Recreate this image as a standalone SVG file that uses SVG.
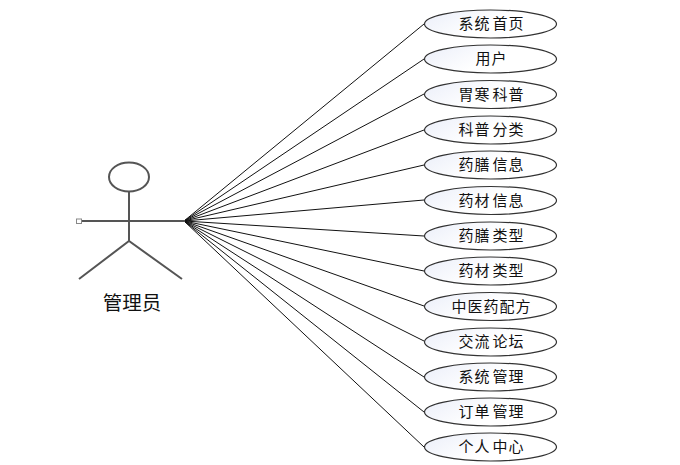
<svg xmlns="http://www.w3.org/2000/svg" width="680" height="465" viewBox="0 0 680 465">
<style>
text{font-family:"Noto Sans CJK SC","Liberation Sans",sans-serif;fill:#111;text-anchor:middle}
.u{font-size:15px;letter-spacing:1px}
.o{fill:url(#g);stroke:#333;stroke-width:1.2}
.c line{stroke:#111;stroke-width:1}
.a{fill:none;stroke:#555;stroke-width:2}
</style>
<defs><linearGradient id="g" x1="0" y1="0.3" x2="0.5" y2="0.5"><stop offset="0" stop-color="#eef1fa"/><stop offset="1" stop-color="#fff"/></linearGradient></defs>
<rect width="680" height="465" fill="#fff"/>
<g id="connectors" class="c">
<line x1="184" y1="221" x2="424" y2="24"/>
<line x1="184" y1="221" x2="424" y2="59"/>
<line x1="184" y1="221" x2="424" y2="94"/>
<line x1="184" y1="221" x2="424" y2="130"/>
<line x1="184" y1="221" x2="424" y2="165"/>
<line x1="184" y1="221" x2="424" y2="200"/>
<line x1="184" y1="221" x2="424" y2="236"/>
<line x1="184" y1="221" x2="424" y2="271"/>
<line x1="184" y1="221" x2="424" y2="306"/>
<line x1="184" y1="221" x2="424" y2="341"/>
<line x1="184" y1="221" x2="424" y2="377"/>
<line x1="184" y1="221" x2="424" y2="412"/>
<line x1="184" y1="221" x2="424" y2="447"/>
</g>
<g id="actor">
<ellipse class="a" cx="129" cy="177" rx="20" ry="14.500"/>
<path class="a" d="M129 192V241M81 221H185M79 279L129 241L182 279"/>
<rect x="76.500" y="219" width="5" height="4.500" fill="#fff" stroke="#888"/>
<text x="132" y="310" font-size="19.500">管理员</text>
</g>
<g id="u1"><ellipse class="o" cx="490.500" cy="24" rx="66" ry="14"/><text class="u" x="491.500" y="29">系统<tspan dx="2">首页</tspan></text></g>
<g id="u2"><ellipse class="o" cx="490.500" cy="59" rx="66" ry="14"/><text class="u" x="491.500" y="64">用户</text></g>
<g id="u3"><ellipse class="o" cx="490.500" cy="94.500" rx="66" ry="14"/><text class="u" x="491.500" y="99.500">胃寒<tspan dx="2">科普</tspan></text></g>
<g id="u4"><ellipse class="o" cx="490.500" cy="130" rx="66" ry="14"/><text class="u" x="491.500" y="135">科普<tspan dx="2">分类</tspan></text></g>
<g id="u5"><ellipse class="o" cx="490.500" cy="165" rx="66" ry="14"/><text class="u" x="491.500" y="170">药膳<tspan dx="2">信息</tspan></text></g>
<g id="u6"><ellipse class="o" cx="490.500" cy="200.500" rx="66" ry="14"/><text class="u" x="491.500" y="205.500">药材<tspan dx="2">信息</tspan></text></g>
<g id="u7"><ellipse class="o" cx="490.500" cy="236" rx="66" ry="14"/><text class="u" x="491.500" y="241">药膳<tspan dx="2">类型</tspan></text></g>
<g id="u8"><ellipse class="o" cx="490.500" cy="271" rx="66" ry="14"/><text class="u" x="491.500" y="276">药材<tspan dx="2">类型</tspan></text></g>
<g id="u9"><ellipse class="o" cx="490.500" cy="306.500" rx="66" ry="14"/><text class="u" x="491.500" y="311.500">中医药配方</text></g>
<g id="u10"><ellipse class="o" cx="490.500" cy="342" rx="66" ry="14"/><text class="u" x="491.500" y="347">交流<tspan dx="2">论坛</tspan></text></g>
<g id="u11"><ellipse class="o" cx="490.500" cy="377" rx="66" ry="14"/><text class="u" x="491.500" y="382">系统<tspan dx="2">管理</tspan></text></g>
<g id="u12"><ellipse class="o" cx="490.500" cy="412" rx="66" ry="14"/><text class="u" x="491.500" y="417">订单<tspan dx="2">管理</tspan></text></g>
<g id="u13"><ellipse class="o" cx="490.500" cy="447" rx="66" ry="14"/><text class="u" x="491.500" y="452">个人<tspan dx="2">中心</tspan></text></g>
</svg>
